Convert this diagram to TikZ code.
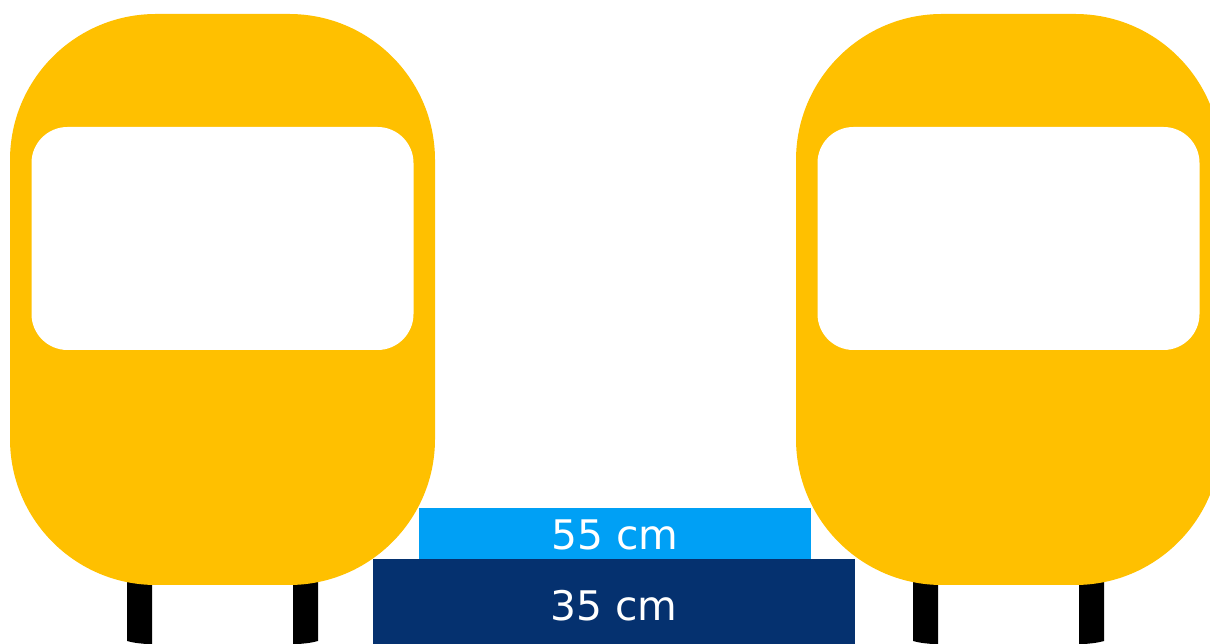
\documentclass[tikz,border=0pt]{standalone}
\usepackage{xcolor}
\usepackage{fontspec}
\setmainfont{DejaVu Sans}
\definecolor{trainyellow}{HTML}{FFC000}
\definecolor{steplight}{HTML}{00A0F5}
\definecolor{stepdark}{HTML}{05316F}
\tikzset{
	platform/.style={text=white, font=\fontsize{23.2}{23.2}\selectfont, inner sep=0pt, outer sep=0pt}
}

\begin{document}
\begin{tikzpicture}
	\path[use as bounding box, clip] (0,0) rectangle (24.2,12.88);
	
	\foreach \x in {4.45, 20.17}{
		% wheels sit behind the body
		\fill[black, xshift=\x cm] (-1.91,1.5) -- (-1.91,0.06) .. controls (-1.75,0.02) .. (-1.41,-0.01) -- (-1.41,1.5) -- cycle;
		\fill[black, xshift=\x cm] (1.91,1.5) -- (1.91,0.06) .. controls (1.75,0.02) .. (1.41,-0.01) -- (1.41,1.5) -- cycle;
		% body
		\fill[trainyellow, xshift=\x cm] (-4.25,4.1) -- (-4.25,9.68) arc (180:90:2.92) -- (1.33,12.6) arc (90:0:2.92) -- (4.25,4.1) arc (0:-90:2.92) -- (-1.33,1.18) arc (-90:-180:2.92) -- cycle;
		% window
		\fill[white, xshift=\x cm] (-3.82,6.6) -- (-3.82,9.62) arc (180:90:0.72) -- (3.1,10.34) arc (90:0:0.72) -- (3.82,6.6) arc (0:-90:0.72) -- (-3.1,5.88) arc (-90:-180:0.72) -- cycle;
	}
	
	\node[platform, fill=steplight, minimum width=7.84cm, minimum height=1.06cm] (upper) at (12.3,2.19) {55 cm};
	\node[platform, fill=stepdark, minimum width=9.64cm, minimum height=1.88cm] (lower) at (12.28,0.76) {35 cm};
\end{tikzpicture}
\end{document}
